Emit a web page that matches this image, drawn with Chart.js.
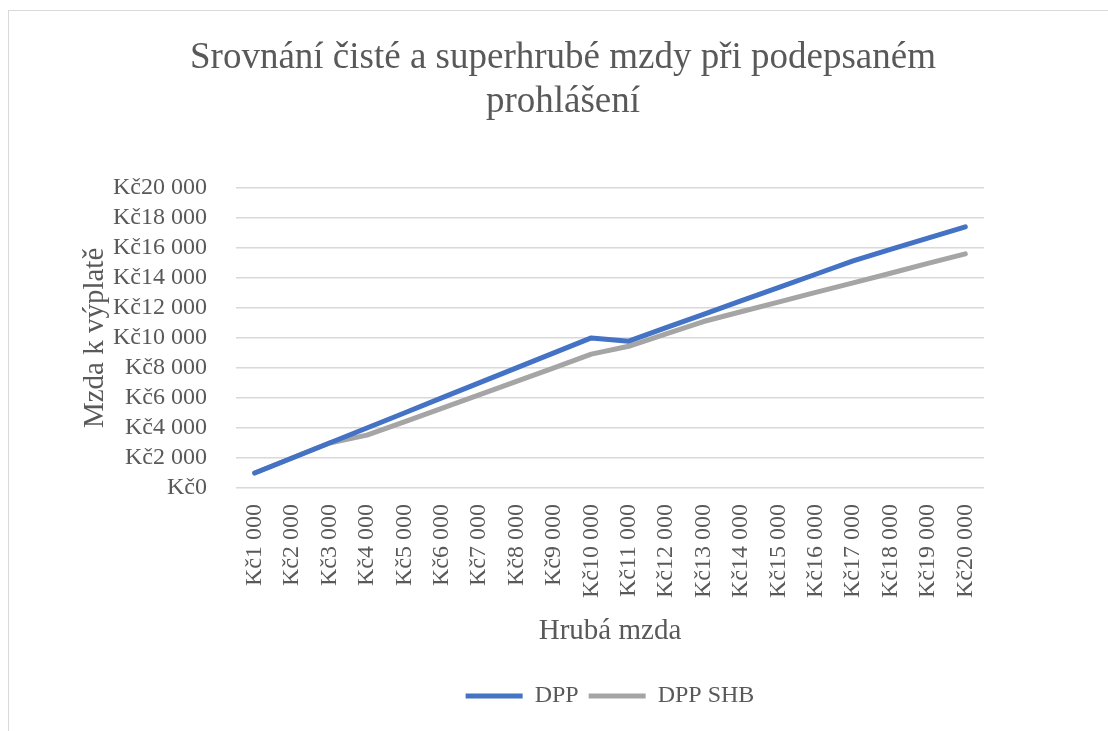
<!DOCTYPE html>
<html>
<head>
<meta charset="utf-8">
<script src="https://cdn.jsdelivr.net/npm/chart.js@4"></script>
<style>
  html, body { margin: 0; padding: 0; background: #fff; overflow: hidden; }
  #frame { position: absolute; left: 8px; top: 10px; width: 1200px; height: 800px;
           border-left: 1.5px solid #d9d9d9; border-top: 1.5px solid #d9d9d9; }
  #wrap { position: absolute; left: 0; top: 0; width: 1108px; height: 731px; }
</style>
</head>
<body>
<div id="frame"></div>
<div id="wrap"><canvas id="chartCanvas"></canvas></div>
<script>
// hrubá mzda (kategorie na ose x)
var kategorie = ["Kč1 000", "Kč2 000", "Kč3 000", "Kč4 000", "Kč5 000", "Kč6 000", "Kč7 000",
  "Kč8 000", "Kč9 000", "Kč10 000", "Kč11 000", "Kč12 000", "Kč13 000", "Kč14 000",
  "Kč15 000", "Kč16 000", "Kč17 000", "Kč18 000", "Kč19 000", "Kč20 000"];

var dpp = [1000, 2000, 3000, 4000, 5000, 6000, 7000, 8000, 9000, 10000,
  9780, 10680, 11570, 12460, 13350, 14240, 15130, 15900, 16650, 17400];

var dppShb = [1000, 2000, 3000, 3520, 4400, 5300, 6200, 7100, 8000, 8920,
  9440, 10270, 11090, 11740, 12380, 13030, 13670, 14310, 14960, 15600];

var yMin = 0;
var yMax = 20000;
var yKrok = 2000;

var seda = "#595959";
var pismo = "'Liberation Serif', 'Times New Roman', serif";

function formatKc(v) {
  return "Kč" + String(v).replace(/\B(?=(\d{3})+(?!\d))/g, " ");
}

var ctx = document.getElementById("chartCanvas").getContext("2d");

var chartConfig = {
  type: "line",
  data: {
    labels: kategorie,
    datasets: [
      {
        label: "DPP",
        data: dpp,
        borderColor: "#4472C4",
        backgroundColor: "#4472C4",
        borderWidth: 5,
        borderCapStyle: "round",
        borderJoinStyle: "round",
        pointRadius: 0,
        tension: 0
      },
      {
        label: "DPP SHB",
        data: dppShb,
        borderColor: "#A5A5A5",
        backgroundColor: "#A5A5A5",
        borderWidth: 5,
        borderCapStyle: "round",
        borderJoinStyle: "round",
        pointRadius: 0,
        tension: 0
      }
    ]
  },
  options: {
    responsive: true,
    maintainAspectRatio: false,
    animation: false,
    layout: {
      padding: { left: 18, right: 0, top: 0, bottom: 13 }
    },
    scales: {
      x: {
        offset: true,
        grid: { display: false },
        border: { display: false },
        ticks: {
          color: seda,
          font: { family: pismo, size: 24 },
          minRotation: 90,
          maxRotation: 90,
          padding: 8,
          autoSkip: false
        },
        title: {
          display: true,
          text: "Hrubá mzda",
          color: seda,
          font: { family: pismo, size: 29 },
          padding: { top: 0, bottom: 25 }
        },
        afterFit: function (scale) { scale.height = 186; }
      },
      y: {
        min: yMin,
        max: yMax,
        grid: { color: "#d9d9d9", lineWidth: 1.5, drawTicks: false },
        border: { display: false },
        ticks: {
          stepSize: yKrok,
          autoSkip: false,
          color: seda,
          font: { family: pismo, size: 24, lineHeight: 1 },
          padding: 29,
          callback: function (v) { return formatKc(v); }
        },
        title: {
          display: true,
          text: "Mzda k výplatě",
          color: seda,
          font: { family: pismo, size: 29 },
          padding: { top: 60, bottom: 0 }
        },
        afterFit: function (scale) { scale.width = 218; }
      },
      // prázdné místo vpravo od grafu
      vpravo: {
        type: "linear",
        position: "right",
        display: true,
        grid: { display: false },
        border: { display: false },
        ticks: { display: false },
        afterFit: function (scale) { scale.width = 124; }
      }
    },
    plugins: {
      title: {
        display: true,
        text: ["Srovnání čisté a superhrubé mzdy při podepsaném", "prohlášení"],
        color: seda,
        font: { family: pismo, size: 37, weight: "normal", lineHeight: 1.2 },
        padding: { top: 36, bottom: 63 }
      },
      legend: {
        display: true,
        position: "bottom",
        fullSize: false,
        labels: {
          color: seda,
          font: { family: pismo, size: 24 },
          usePointStyle: true,
          pointStyle: "line",
          pointStyleWidth: 57,
          padding: 10
        }
      },
      tooltip: { enabled: false }
    }
  }
};

var myChart = new Chart(ctx, chartConfig);
</script>
</body>
</html>
